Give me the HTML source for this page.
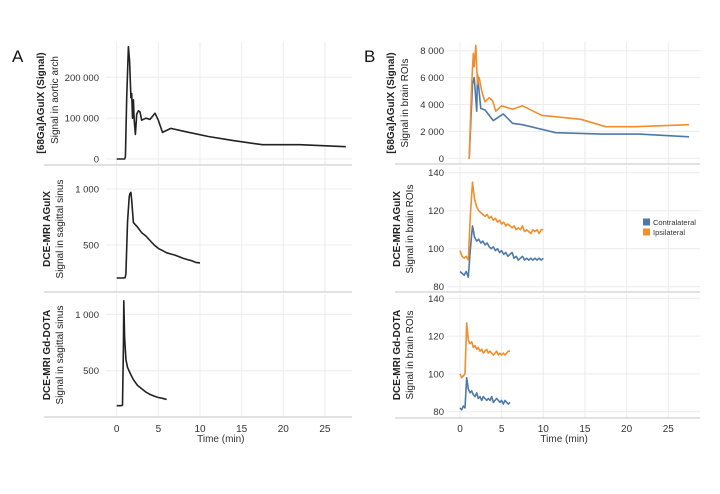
<!DOCTYPE html>
<html><head><meta charset="utf-8"><style>
body{margin:0;background:#fff;}
svg{display:block;font-family:"Liberation Sans",sans-serif;}
</style></head><body>
<svg id="c" width="720" height="494" viewBox="0 0 720 494"></svg>
<script>
// ---- data ----
const aTopT=[0,0.95,1.05,1.2,1.4,1.55,1.7,1.8,1.9,2.0,2.1,2.25,2.4,2.6,2.8,3.0,3.5,4.0,4.6,5.0,5.5,6.5,8,11,14,17.5,22,27.5];
const aTopV=[0,0,5000,150000,275000,240000,150000,160000,100000,145000,95000,60000,110000,118000,115000,95000,100000,97000,112000,95000,65000,75000,68000,55000,45000,35000,35000,30000];
const aMidT=[0,0.5,1.0,1.1,1.3,1.5,1.6,1.7,1.8,2.0,2.5,3,3.5,4,4.5,5,5.5,6,6.5,7,7.5,8,8.5,9,9.5,10];
const aMidV=[205,205,207,240,700,930,960,970,900,700,660,610,580,540,500,470,450,430,420,410,395,380,370,360,345,340];
const aBotT=[0,0.5,0.7,0.8,0.85,0.95,1.1,1.3,1.6,2.0,2.5,3,3.5,4,4.5,5,5.5,6];
const aBotV=[190,190,195,700,1120,800,600,530,480,420,370,340,310,290,275,262,255,245];
const bTopT=[0,1.1,1.5,1.7,2.0,2.1,2.5,3,4,5.2,6.3,7.5,11.5,17,21.5,27.5];
const bTopBlue=[null,0,5500,6000,3500,6200,3700,3600,2800,3300,2600,2500,1900,1800,1800,1600];
const bTopOT=[1.0,1.1,1.4,1.6,1.7,1.9,2.1,2.3,2.6,3.0,3.5,3.9,4.3,5.0,6.3,7.5,9.8,14.5,17.5,21,27.5];
const bTopOrange=[0,0,5500,7800,6800,8400,5500,6000,5000,4200,4500,4300,3500,3900,3650,3900,3200,2900,2350,2350,2500];
const bMidT=[0,0.25,0.5,0.75,1.0,1.25,1.5,1.75,2,2.25,2.5,2.75,3,3.25,3.5,3.75,4,4.25,4.5,4.75,5,5.25,5.5,5.75,6,6.25,6.5,6.75,7,7.25,7.5,7.75,8,8.25,8.5,8.75,9,9.25,9.5,9.75,10];
const bMidOrange=[99,96,95,96,94,118,135,126,122,120,119,118,117,118,116,117,115,116,114,115,113,114,112,113,112,111,112,110,111,110,112,109,110,109,108,110,109,110,108,110,110];
const bMidBlue=[88,87,86,88,85,100,112,106,104,105,103,104,102,103,101,100,101,99,100,98,99,97,98,96,97,98,95,96,94,95,96,94,95,94,95,94,95,94,95,94,95];
const bBotT=[0,0.2,0.4,0.6,0.8,1.0,1.2,1.4,1.6,1.8,2.0,2.2,2.4,2.6,2.8,3.0,3.2,3.4,3.6,3.8,4.0,4.2,4.4,4.6,4.8,5.0,5.2,5.4,5.6,5.8,6.0];
const bBotOrange=[100,98,99,100,127,118,116,117,114,115,113,114,112,113,111,112,113,111,112,111,110,111,112,110,111,110,111,110,111,112,112];
const bBotBlue=[82,81,83,82,98,92,90,91,89,88,90,87,88,86,88,87,86,87,86,88,85,86,87,86,85,86,84,86,85,84,85];
const xTicks=[0,5,10,15,20,25];
const aTopTicks=[0,100000,200000], aTopLab=["0","100 000","200 000"];
const aMRITicks=[500,1000], aMRILab=["500","1 000"];
const bTopTicks=[0,2000,4000,6000,8000], bTopLab=["0","2 000","4 000","6 000","8 000"];
const bMRITicks=[80,100,120,140], bMRILab=["80","100","120","140"];

const svg=document.getElementById('c');const NS='http://www.w3.org/2000/svg';
function el(t,a,p){const e=document.createElementNS(NS,t);for(const k in a)e.setAttribute(k,a[k]);(p||svg).appendChild(e);return e;}
function txt(s,a){const e=el('text',a);e.textContent=s;return e;}
const xA=t=>116.7+t*8.33, xB=t=>460+t*8.33;
function lin(v0,p0,v1,p1){return v=>p0+(v-v0)*(p1-p0)/(v1-v0);}
const panels=[
 {x:xA,y:lin(0,159,200000,77.3),top:42,bot:165,gl:44,gr:352,ticks:aTopTicks,lab:aTopLab,lx:99,vx:106},
 {x:xA,y:lin(500,245,1000,189),top:167,bot:292,gl:44,gr:352,ticks:aMRITicks,lab:aMRILab,lx:99,vx:106},
 {x:xA,y:lin(500,370.7,1000,314.3),top:294,bot:417,gl:44,gr:352,ticks:aMRITicks,lab:aMRILab,lx:99,vx:106},
 {x:xB,y:lin(0,158.3,8000,50.7),top:42,bot:164,gl:395,gr:700,ticks:bTopTicks,lab:bTopLab,lx:444,vx:448},
 {x:xB,y:lin(80,286.7,140,172.7),top:166,bot:292,gl:395,gr:700,ticks:bMRITicks,lab:bMRILab,lx:444,vx:448},
 {x:xB,y:lin(80,411.7,140,298.3),top:294,bot:418,gl:395,gr:700,ticks:bMRITicks,lab:bMRILab,lx:444,vx:448}];
panels.forEach((p,i)=>{
 const g=el('g',{});
 xTicks.forEach(t=>{const l=el('line',{x1:p.x(t),x2:p.x(t),y1:p.top,y2:p.bot,stroke:'#ececec','stroke-width':1},g);});
 p.ticks.forEach((v,j)=>{const l=el('line',{x1:p.vx,x2:p.gr,y1:p.y(v),y2:p.y(v),stroke:'#ececec','stroke-width':1},g);
  const t=txt(p.lab[j],{x:p.lx,y:p.y(v)+3.5,'text-anchor':'end','font-size':9.5,fill:'#333'});});
 const b=el('line',{x1:p.gl,x2:p.gr,y1:p.bot,y2:p.bot,stroke:'#d0d0d0','stroke-width':1.2},g);
});
function series(p,T,V,color,name){let d='';T.forEach((t,i)=>{if(V[i]==null)return;d+=(d?'L':'M')+p.x(t).toFixed(1)+','+p.y(V[i]).toFixed(1);});
 const e=el('path',{d:d,fill:'none',stroke:color,'stroke-width':1.6,'stroke-linejoin':'round'});}
const K='#222',BL='#4e79a7',OR='#f28e2b';
series(panels[0],aTopT,aTopV,K,'aortic-arch-line');
series(panels[1],aMidT,aMidV,K,'sagittal-sinus-aguix-line');
series(panels[2],aBotT,aBotV,K,'sagittal-sinus-gddota-line');
series(panels[3],bTopT,bTopBlue,BL,'pet-contralateral-line');
series(panels[3],bTopOT,bTopOrange,OR,'pet-ipsilateral-line');
series(panels[4],bMidT,bMidBlue,BL,'aguix-contralateral-line');
series(panels[4],bMidT,bMidOrange,OR,'aguix-ipsilateral-line');
series(panels[5],bBotT,bBotBlue,BL,'gddota-contralateral-line');
series(panels[5],bBotT,bBotOrange,OR,'gddota-ipsilateral-line');
[[xA,'a'],[xB,'b']].forEach(([f,n])=>{xTicks.forEach(t=>{const e=txt(String(t),{x:f(t),y:432,'text-anchor':'middle','font-size':10,fill:'#333'});});
 const e=txt('Time (min)',{x:f(12.5),y:442,'text-anchor':'middle','font-size':10,fill:'#333'});});
function ytitle(x,y,bold,s,name){const e=txt(s,{x:0,y:0,transform:`translate(${x},${y}) rotate(-90)`,'text-anchor':'middle','font-size':10,'font-weight':bold?'bold':'normal',fill:'#222'});}
ytitle(44,103,true,'[68Ga]AGuIX (Signal)','y-title-a1');ytitle(58,100,false,'Signal in aortic arch','y-sub-a1');
ytitle(50,229,true,'DCE-MRI AGuIX','y-title-a2');ytitle(63,229,false,'Signal in sagittal sinus','y-sub-a2');
ytitle(50,355,true,'DCE-MRI Gd-DOTA','y-title-a3');ytitle(63,355,false,'Signal in sagittal sinus','y-sub-a3');
ytitle(394,103,true,'[68Ga]AGuIX (Signal)','y-title-b1');ytitle(408,103,false,'Signal in brain ROIs','y-sub-b1');
ytitle(400,229,true,'DCE-MRI AGuIX','y-title-b2');ytitle(413,229,false,'Signal in brain ROIs','y-sub-b2');
ytitle(400,355,true,'DCE-MRI Gd-DOTA','y-title-b3');ytitle(413,355,false,'Signal in brain ROIs','y-sub-b3');
let e=txt('A',{x:12,y:62,'font-size':17,fill:'#111'});
e=txt('B',{x:364,y:62,'font-size':17,fill:'#111'});
[['Contralateral',BL,222],['Ipsilateral',OR,232]].forEach(([s,c,y])=>{
 const r=el('rect',{x:643,y:y-3.5,width:7,height:7,fill:c});
 const t=txt(s,{x:653,y:y+3,'font-size':7.5,fill:'#333'});});
</script>
</body></html>
